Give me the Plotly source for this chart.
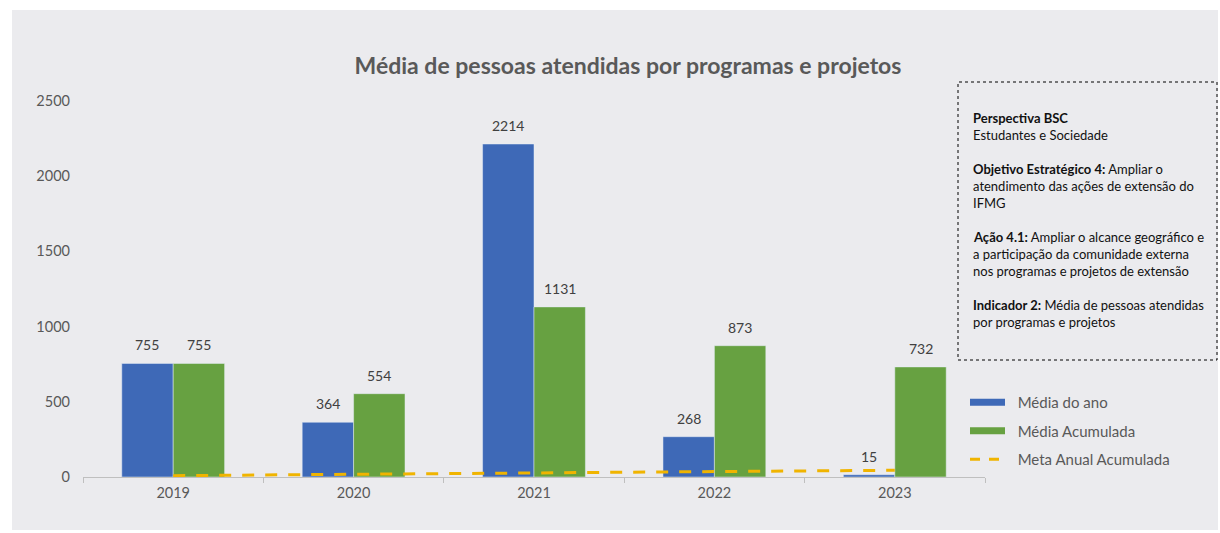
import plotly.graph_objects as go

years = ["2019", "2020", "2021", "2022", "2023"]
media_ano = [755, 364, 2214, 268, 15]
media_acumulada = [755, 554, 1131, 873, 732]
meta_anual_acumulada = [9, 18, 27, 36, 45]
y_ticks = [0, 500, 1000, 1500, 2000, 2500]

info_lines = [
    "<b>Perspectiva BSC</b>",
    "Estudantes e Sociedade",
    "",
    "<b>Objetivo Estratégico 4:</b> Ampliar o",
    "atendimento das ações de extensão do",
    "IFMG",
    "",
    "<b>Ação 4.1:</b> Ampliar o alcance geográfico e",
    "a participação da comunidade externa",
    "nos programas e projetos de extensão",
    "",
    "<b>Indicador 2:</b> Média de pessoas atendidas",
    "por programas e projetos",
]

BLUE = "#3E69B7"
GREEN = "#67A141"
GOLD = "#F0B400"
TXT = "#595959"
FONT = "Lato"
NB = "\u00a0\u00a0"

W, H = 1220, 533
PL, PR, PT, PB = 83, 985, 101, 477
L, R, T, B = PL, W - PR, PT, H - PB
pw, ph = PR - PL, PB - PT


def px(x):
    return (x - PL) / pw


def py(y):
    return (PB - y) / ph


fig = go.Figure()
fig.add_trace(go.Bar(x=years, y=media_ano, name="Média do ano", marker_color=BLUE, showlegend=False))
fig.add_trace(go.Bar(x=years, y=media_acumulada, name="Média Acumulada", marker_color=GREEN,
                     showlegend=False))
fig.add_trace(go.Scatter(x=years, y=meta_anual_acumulada, mode="lines", name="Meta Anual Acumulada",
                         line=dict(color=GOLD, width=3, dash="12px,11px"), showlegend=False))

# legend entries
fig.add_trace(go.Scatter(x=[None], y=[None], mode="lines", name=NB + "Média do ano",
                         line=dict(color=BLUE, width=7), legendgroup="a"))
fig.add_trace(go.Scatter(x=[None], y=[None], mode="lines", name=NB + "Média Acumulada",
                         line=dict(color=GREEN, width=7), legendgroup="b"))
fig.add_trace(go.Scatter(x=[None], y=[None], mode="lines", name=NB + "Meta Anual Acumulada",
                         line=dict(color=GOLD, width=3, dash="10px,9px"), legendgroup="c"))

annotations = []
# data labels above bars (x given as category index)
bar_px = 0.57 * (pw / len(years)) / 2
for vals, sh in ((media_ano, -bar_px / 2), (media_acumulada, bar_px / 2)):
    for i, v in enumerate(vals):
        annotations.append(dict(x=i, y=v, xref="x", yref="y", text=str(v), showarrow=False,
                                xshift=sh, yshift=8, yanchor="bottom",
                                font=dict(size=14, color="#404040", family=FONT)))

# info box lines
line_y0, line_dy = 118, 17
for i, line in enumerate(info_lines):
    if not line:
        continue
    annotations.append(dict(text=line, xref="paper", yref="paper", x=px(971), y=py(line_y0 + i * line_dy),
                            xanchor="left", yanchor="middle", align="left", showarrow=False,
                            font=dict(size=13, color="#111111", family=FONT)))

fig.update_layout(
    width=W, height=H,
    margin=dict(l=L, r=R, t=T, b=B, pad=0),
    paper_bgcolor="white",
    plot_bgcolor="rgba(0,0,0,0)",
    barmode="group", bargap=0.43, bargroupgap=0,
    font=dict(family=FONT, color=TXT, size=14),
    title=dict(text="<b>Média de pessoas atendidas por programas e projetos</b>",
               x=px(628), xref="paper", xanchor="center", y=1 - 66 / H, yanchor="middle",
               font=dict(size=23, color=TXT, family=FONT)),
    xaxis=dict(type="category", range=[-0.5, len(years) - 0.5], showgrid=False, showline=True,
               linecolor="#BFBFBF", linewidth=1,
               ticks="outside", tickson="boundaries", ticklen=5, tickcolor="#BFBFBF",
               tickfont=dict(size=14.5, color=TXT), ticklabelstandoff=3, fixedrange=True),
    yaxis=dict(range=[0, 2500], tickvals=y_ticks, showgrid=False, zeroline=False, showline=False,
               tickfont=dict(size=14.5, color=TXT), ticks="", ticklabelstandoff=12, fixedrange=True),
    legend=dict(x=px(965), y=py(386), xanchor="left", yanchor="top", bgcolor="rgba(0,0,0,0)",
                font=dict(size=15, color=TXT), itemwidth=35, tracegroupgap=6),
    shapes=[
        dict(type="rect", xref="paper", yref="paper", x0=px(12), x1=px(1218), y0=py(530), y1=py(10),
             fillcolor="#EBEBEE", line=dict(width=0), layer="below"),
        dict(type="rect", xref="paper", yref="paper", x0=px(958), x1=px(1217), y0=py(360), y1=py(82),
             fillcolor="rgba(0,0,0,0)", line=dict(color="#000000", width=1, dash="dot"), layer="above"),
    ],
    annotations=annotations,
)

fig.write_html("out.html", config={"displayModeBar": False},
               post_script="document.body.style.margin='0';document.body.style.overflow='hidden';")
